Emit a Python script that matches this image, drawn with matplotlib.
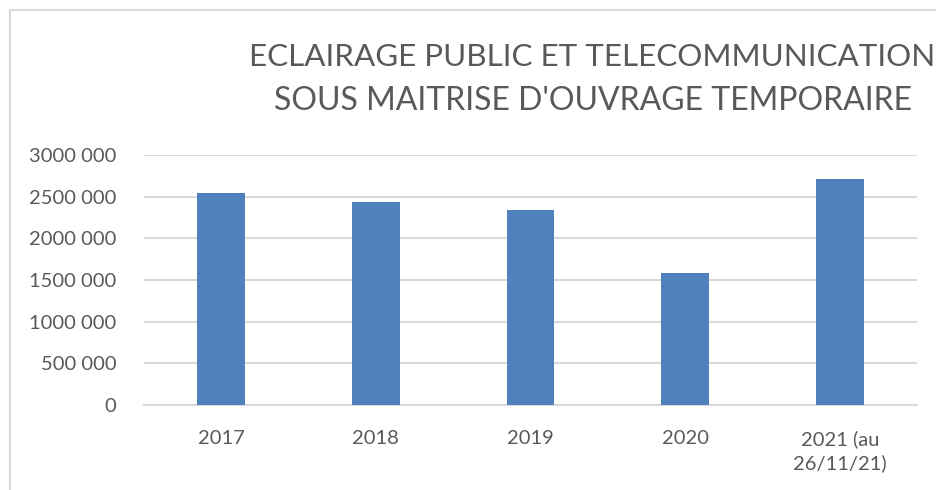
import matplotlib
matplotlib.use("Agg")
import matplotlib.pyplot as plt
from matplotlib.lines import Line2D
from matplotlib.ticker import FuncFormatter

annees = ["2017", "2018", "2019", "2020", "2021 (au\n26/11/21)"]
montants = [2540000, 2436000, 2340000, 1588000, 2712000]
graduations = [0, 500000, 1000000, 1500000, 2000000, 2500000, 3000000]

titre_1 = "ECLAIRAGE PUBLIC ET TELECOMMUNICATION"
titre_2 = "SOUS MAITRISE D'OUVRAGE TEMPORAIRE"

gris_texte = "#595959"
gris_ligne = "#d9d9d9"
bleu = "#4f81bd"

plt.rcParams["font.family"] = ["Lato", "DejaVu Sans"]


def format_excel(v, pos):
    # format "# ##0" : un seul separateur
    v = int(round(v))
    if v < 1000:
        return str(v)
    return "%d %03d" % (v // 1000, v % 1000)


fig = plt.figure(figsize=(9.36, 4.9), dpi=100)
ax = fig.add_axes([144 / 936, 85 / 490, 773 / 936, 250 / 490])

x = range(len(annees))
ax.bar(x, montants, width=0.31, color=bleu, zorder=3)

ax.set_xlim(-0.5, len(annees) - 0.5)
ax.set_ylim(0, 3000000)
ax.set_yticks(graduations)
ax.yaxis.set_major_formatter(FuncFormatter(format_excel))
ax.set_xticks(list(x))
ax.set_xticklabels(annees, linespacing=1.45)

ax.grid(axis="y", color=gris_ligne, linewidth=1.5, zorder=0)
for s in ["top", "right", "left"]:
    ax.spines[s].set_visible(False)
ax.spines["bottom"].set_color(gris_ligne)
ax.spines["bottom"].set_linewidth(1.5)
ax.tick_params(axis="both", length=0, labelsize=14.5, colors=gris_texte)
ax.tick_params(axis="y", pad=20)
ax.tick_params(axis="x", pad=18)

# titre : la premiere ligne touche le bord droit comme dans l'original
fig.text(935 / 936, 1 - 57 / 490, titre_1, ha="right", va="center",
         fontsize=22.6, color=gris_texte)
fig.text(593 / 936, 1 - 101 / 490, titre_2, ha="center", va="center",
         fontsize=23, color=gris_texte)

# bordure de la zone graphique
fig.add_artist(Line2D([10 / 936, 10 / 936], [0, 1 - 10 / 490],
                      transform=fig.transFigure, color=gris_ligne, linewidth=1.5))
fig.add_artist(Line2D([10 / 936, 1], [1 - 10 / 490, 1 - 10 / 490],
                      transform=fig.transFigure, color=gris_ligne, linewidth=1.5))

fig.savefig("out.png", dpi=100, facecolor="white")
